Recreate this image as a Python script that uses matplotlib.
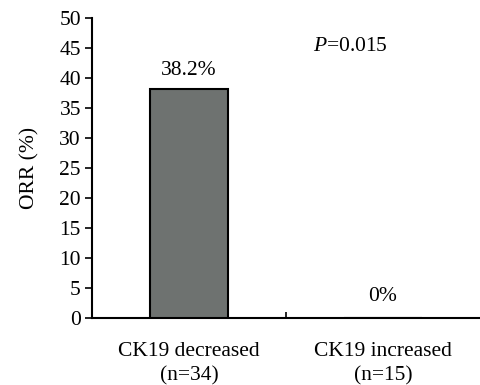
import matplotlib
matplotlib.use("Agg")
import matplotlib.pyplot as plt

categories = ["CK19 decreased\n(n=34)", "CK19 increased\n(n=15)"]
orr = [38.2, 0.0]
value_labels = ["38.2%", "0%"]
yticks = list(range(0, 55, 5))

plt.rcParams["font.family"] = ["Liberation Serif", "DejaVu Serif"]
plt.rcParams["font.size"] = 15.5
plt.rcParams["mathtext.fontset"] = "custom"
plt.rcParams["mathtext.it"] = "Liberation Serif:italic"
plt.rcParams["mathtext.rm"] = "Liberation Serif"

fig = plt.figure(figsize=(4.8, 3.85), dpi=100)
ax = fig.add_axes([92 / 480, 67 / 385, 388 / 480, 300 / 385])

x = range(len(categories))
ax.bar(x, orr, width=0.4, color="#6e7270", edgecolor="black", linewidth=1.5, zorder=3)

ax.set_xlim(-0.5, 1.5)
ax.set_ylim(0, 50)
ax.set_yticks(yticks)
ax.tick_params(axis="y", direction="out", length=5, width=1.2, pad=3)
ax.set_xticks([0.5])
ax.set_xticklabels([""])
ax.tick_params(axis="x", direction="in", length=4, width=1.2)

for i, lab in enumerate(categories):
    ax.text(i, -4.0, lab, ha="center", va="top", linespacing=1.4)

ax.spines["top"].set_visible(False)
ax.spines["right"].set_visible(False)
ax.spines["left"].set_linewidth(1.5)
ax.spines["bottom"].set_linewidth(1.5)

ax.text(0, orr[0] + 1.5, value_labels[0], ha="center", va="bottom")
ax.text(1, orr[1] + 2.0, value_labels[1], ha="center", va="bottom")
ax.text(0.83, 45.2, r"$P$=0.015", ha="center", va="center")

ax.set_ylabel("ORR (%)", labelpad=14)

fig.savefig("out.png", dpi=100)
